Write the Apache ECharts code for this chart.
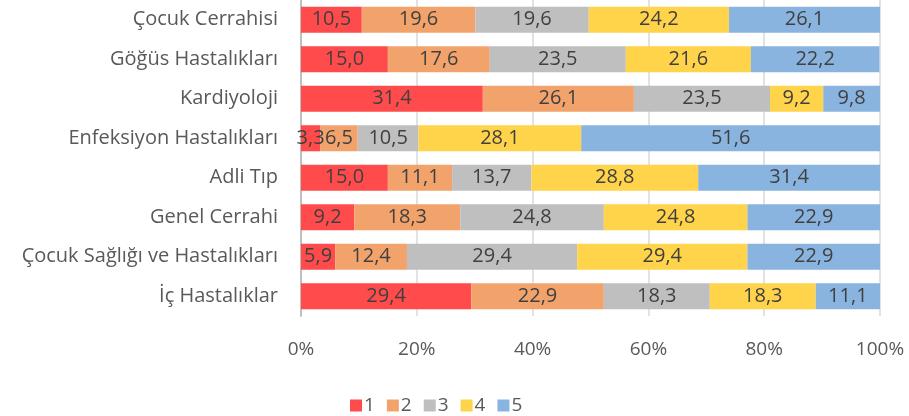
<!DOCTYPE html>
<html>
<head>
<meta charset="utf-8">
<script src="https://cdn.jsdelivr.net/npm/echarts@6/dist/echarts.min.js"></script>
<style>
  html, body { margin: 0; padding: 0; background: #fff; }
  #chart { width: 909px; height: 416px; }
</style>
</head>
<body>
<div id="chart"></div>
<script>
const categories = ['Çocuk Cerrahisi', 'Göğüs Hastalıkları', 'Kardiyoloji', 'Enfeksiyon Hastalıkları',
  'Adli Tıp', 'Genel Cerrahi', 'Çocuk Sağlığı ve Hastalıkları', 'İç Hastalıklar'];
const seriesNames = ['1', '2', '3', '4', '5'];
const s1 = [10.5, 15.0, 31.4, 3.3, 15.0, 9.2, 5.9, 29.4];
const s2 = [19.6, 17.6, 26.1, 6.5, 11.1, 18.3, 12.4, 22.9];
const s3 = [19.6, 23.5, 23.5, 10.5, 13.7, 24.8, 29.4, 18.3];
const s4 = [24.2, 21.6, 9.2, 28.1, 28.8, 24.8, 29.4, 18.3];
const s5 = [26.1, 22.2, 9.8, 51.6, 31.4, 22.9, 22.9, 11.1];
const xTicks = [0, 20, 40, 60, 80, 100];

const colors = ['#FF4B4B', '#F2A36C', '#BFBFBF', '#FFD34A', '#8AB4E0'];
const font = 'Open Sans';

const chart = echarts.init(document.getElementById('chart'));
const values = [s1, s2, s3, s4, s5];

chart.setOption({
  animation: false,
  textStyle: { fontFamily: font },
  grid: { left: 301, right: 29, top: 0, bottom: 100 },
  legend: {
    data: seriesNames,
    left: 345,
    top: 391,
    itemWidth: 12,
    itemHeight: 12,
    itemGap: 12,
    icon: 'rect',
    textStyle: { fontSize: 19, color: '#595959', fontFamily: font, padding: [0, 0, 0, -3] }
  },
  xAxis: {
    type: 'value',
    min: 0,
    max: 100,
    interval: 20,
    axisLine: { show: false },
    axisTick: { show: false },
    splitLine: { lineStyle: { color: '#D9D9D9', width: 1.5 } },
    axisLabel: {
      margin: 24,
      fontSize: 19,
      color: '#595959',
      formatter: v => xTicks.includes(v) ? v + '%' : ''
    }
  },
  yAxis: {
    type: 'category',
    inverse: true,
    data: categories,
    axisLine: { lineStyle: { color: '#BFBFBF', width: 2 } },
    axisTick: { show: false },
    axisLabel: { margin: 23, fontSize: 20, color: '#595959' }
  },
  series: seriesNames.map((name, i) => ({
    name: name,
    type: 'bar',
    stack: 'total',
    barCategoryGap: '34%',
    itemStyle: { color: colors[i] },
    label: {
      show: true,
      position: 'inside',
      fontSize: 20,
      color: '#404040',
      formatter: p => p.value.toFixed(1).replace('.', ',')
    },
    data: values[i]
  }))
});
</script>
</body>
</html>
